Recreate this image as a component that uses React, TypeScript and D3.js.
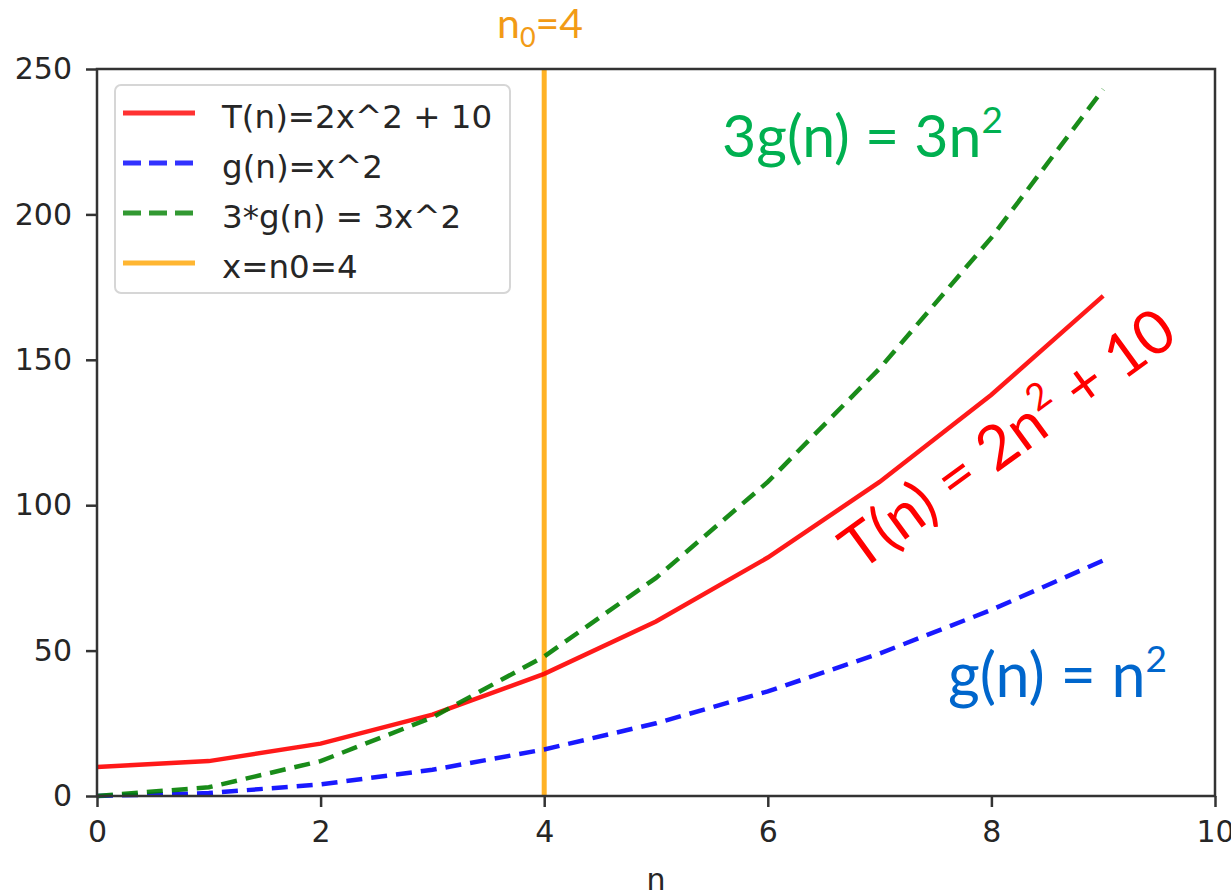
import * as d3 from "d3";
import { useEffect, useRef } from "react";

// values
const nValues = [0, 1, 2, 3, 4, 5, 6, 7, 8, 9];
const tValues = [10, 12, 18, 28, 42, 60, 82, 108, 138, 172];
const gValues = [0, 1, 4, 9, 16, 25, 36, 49, 64, 81];
const g3Values = [0, 3, 12, 27, 48, 75, 108, 147, 192, 243];
const n0 = 4;

const xTicks = [0, 2, 4, 6, 8, 10];
const yTicks = [0, 50, 100, 150, 200, 250];

const legendLabels = ["T(n)=2x^2 + 10", "g(n)=x^2", "3*g(n) = 3x^2", "x=n0=4"];
const legendColors = ["#ff0000", "#0000ff", "#008000", "#ffa500"];
const legendDashed = [false, true, true, false];

const width = 1231;
const height = 894;
const margin = { top: 69, right: 16, bottom: 98, left: 97 };

const App = () => {
  const ref = useRef<SVGSVGElement>(null);

  useEffect(() => {
    drawChart();
  }, []);

  function drawChart() {
    const svg = d3.select(ref.current);
    svg.selectAll("*").remove();

    const x = d3.scaleLinear().domain([0, 10]).range([margin.left, width - margin.right]);
    const y = d3.scaleLinear().domain([0, 250]).range([height - margin.bottom, margin.top]);

    const tickFont = "DejaVu Sans, sans-serif";

    // series
    const series = [
      { values: tValues, color: "#ff0000", dashed: false },
      { values: gValues, color: "#0000ff", dashed: true },
      { values: g3Values, color: "#008000", dashed: true },
    ];
    const line = d3
      .line<number>()
      .x((_, i) => x(nValues[i]))
      .y((d) => y(d));

    // n0 vertical line
    svg
      .append("line")
      .attr("x1", x(n0))
      .attr("x2", x(n0))
      .attr("y1", y(0))
      .attr("y2", y(250))
      .attr("stroke", "#ffa500")
      .attr("stroke-width", 5)
      .attr("opacity", 0.85);

    series.forEach((s) => {
      svg
        .append("path")
        .attr("d", line(s.values))
        .attr("fill", "none")
        .attr("stroke", s.color)
        .attr("stroke-width", 4.5)
        .attr("stroke-dasharray", s.dashed ? "16,9" : null)
        .attr("opacity", 0.9);
    });

    // axes
    const xAxis = svg
      .append("g")
      .attr("transform", `translate(0,${y(0)})`)
      .call(d3.axisBottom(x).tickValues(xTicks).tickSize(11).tickPadding(14));
    const yAxis = svg
      .append("g")
      .attr("transform", `translate(${x(0)},0)`)
      .call(d3.axisLeft(y).tickValues(yTicks).tickSize(11).tickPadding(14));

    [xAxis, yAxis].forEach((a) => {
      a.select(".domain").remove();
      a.selectAll(".tick line").attr("stroke", "#333").attr("stroke-width", 2.5);
      a.selectAll(".tick text")
        .attr("fill", "#262626")
        .style("font-family", tickFont)
        .style("font-size", "30px");
    });

    // frame
    svg
      .append("rect")
      .attr("x", x(0))
      .attr("y", y(250))
      .attr("width", x(10) - x(0))
      .attr("height", y(0) - y(250))
      .attr("fill", "none")
      .attr("stroke", "#333")
      .attr("stroke-width", 2.5);

    svg
      .append("text")
      .attr("x", (x(0) + x(10)) / 2)
      .attr("y", 890)
      .attr("text-anchor", "middle")
      .attr("fill", "#262626")
      .style("font-family", tickFont)
      .style("font-size", "30px")
      .text("n");

    // legend
    const lg = svg.append("g").attr("transform", "translate(115,85)");
    lg.append("rect")
      .attr("width", 395)
      .attr("height", 208)
      .attr("rx", 6)
      .attr("fill", "white")
      .attr("fill-opacity", 0.8)
      .attr("stroke", "#d6d6d6")
      .attr("stroke-width", 2);
    legendLabels.forEach((label, i) => {
      const yy = 28 + i * 50;
      lg.append("line")
        .attr("x1", 8)
        .attr("x2", 80)
        .attr("y1", yy)
        .attr("y2", yy)
        .attr("stroke", legendColors[i])
        .attr("stroke-width", 5)
        .attr("stroke-dasharray", legendDashed[i] ? "18,8" : null)
        .attr("opacity", 0.8);
      lg.append("text")
        .attr("x", 107)
        .attr("y", yy + 15)
        .attr("fill", "#262626")
        .style("font-family", tickFont)
        .style("font-size", "32.5px")
        .text(label);
    });

    // annotations
    const annFont = "Lato, 'Open Sans', sans-serif";
    const n0Text = svg
      .append("text")
      .attr("x", 497)
      .attr("y", 38)
      .attr("fill", "#f29b16")
      .style("font-family", annFont)
      .style("font-size", "41px");
    n0Text.append("tspan").text("n");
    n0Text.append("tspan").attr("dy", 9).style("font-size", "27px").text("0");
    n0Text.append("tspan").attr("dy", -9).text("=4");

    const greenText = svg
      .append("text")
      .attr("x", 722)
      .attr("y", 157)
      .attr("fill", "#00b050")
      .style("font-family", annFont)
      .style("font-size", "59px");
    greenText.append("tspan").text("3g(n) = 3n");
    greenText.append("tspan").attr("dy", -24).style("font-size", "37px").text("2");

    const blueText = svg
      .append("text")
      .attr("x", 948)
      .attr("y", 697)
      .attr("fill", "#0066cc")
      .style("font-family", annFont)
      .style("font-size", "61px");
    blueText.append("tspan").text("g(n) = n");
    blueText.append("tspan").attr("dy", -25).style("font-size", "37px").text("2");

    const redText = svg
      .append("text")
      .attr("transform", "translate(1020,456) rotate(-36)")
      .attr("text-anchor", "middle")
      .attr("fill", "#ff0000")
      .style("font-family", annFont)
      .style("font-size", "61px");
    redText.append("tspan").text("T(n) = 2n");
    redText.append("tspan").attr("dy", -25).style("font-size", "37px").text("2");
    redText.append("tspan").attr("dy", 25).text(" + 10");
  }

  return (
    <svg
      ref={ref}
      width={width}
      height={height}
      style={{ position: "absolute", left: 0, top: 0, background: "white" }}
    />
  );
};

export default App;
